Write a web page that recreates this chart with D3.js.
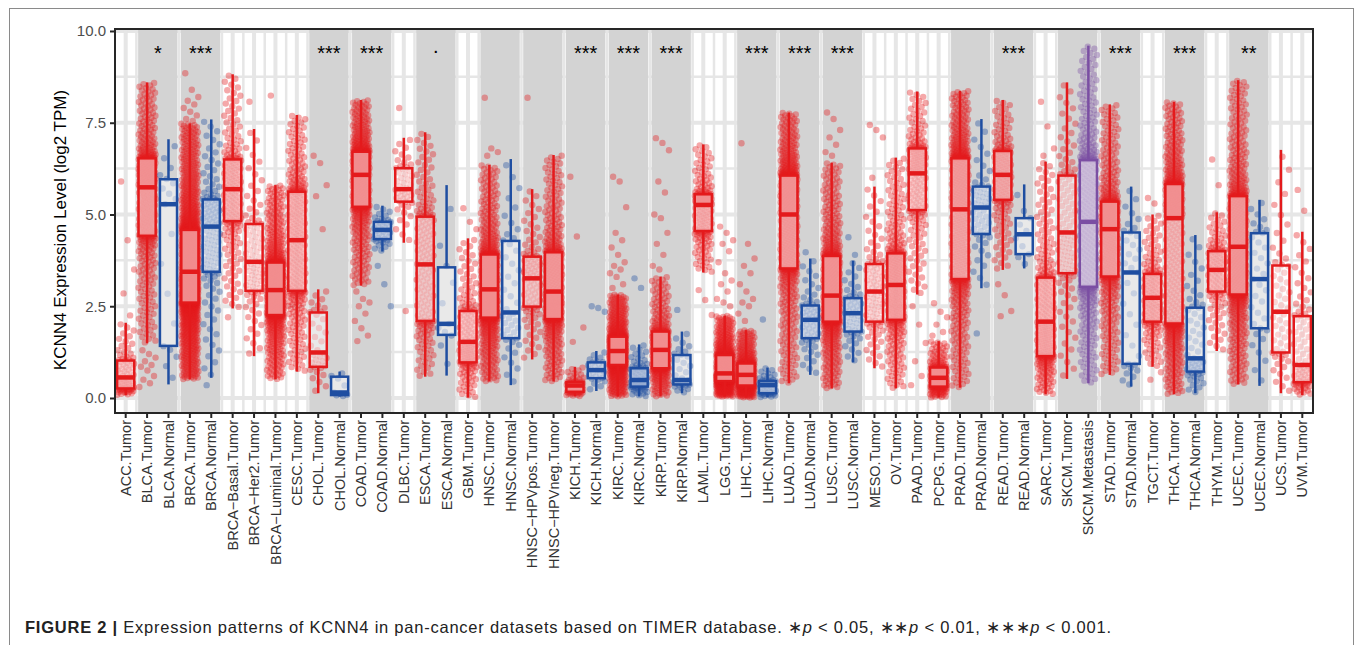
<!DOCTYPE html>
<html>
<head>
<meta charset="utf-8">
<script src="https://cdn.jsdelivr.net/npm/d3@7"></script>
<style>
  body { margin: 0; background: #fff; }
  svg text { font-family: "Liberation Sans", Arial, Helvetica, sans-serif; }
</style>
</head>
<body>
<svg id="chart" width="1355" height="645"></svg>
<script>
// ---- data (log2 TPM) ----
var categories = ["ACC.Tumor","BLCA.Tumor","BLCA.Normal","BRCA.Tumor","BRCA.Normal",
  "BRCA\u2212Basal.Tumor","BRCA\u2212Her2.Tumor","BRCA\u2212Luminal.Tumor","CESC.Tumor",
  "CHOL.Tumor","CHOL.Normal","COAD.Tumor","COAD.Normal","DLBC.Tumor","ESCA.Tumor","ESCA.Normal",
  "GBM.Tumor","HNSC.Tumor","HNSC.Normal","HNSC\u2212HPVpos.Tumor","HNSC\u2212HPVneg.Tumor",
  "KICH.Tumor","KICH.Normal","KIRC.Tumor","KIRC.Normal","KIRP.Tumor","KIRP.Normal","LAML.Tumor",
  "LGG.Tumor","LIHC.Tumor","LIHC.Normal","LUAD.Tumor","LUAD.Normal","LUSC.Tumor","LUSC.Normal",
  "MESO.Tumor","OV.Tumor","PAAD.Tumor","PCPG.Tumor","PRAD.Tumor","PRAD.Normal","READ.Tumor",
  "READ.Normal","SARC.Tumor","SKCM.Tumor","SKCM.Metastasis","STAD.Tumor","STAD.Normal",
  "TGCT.Tumor","THCA.Tumor","THCA.Normal","THYM.Tumor","UCEC.Tumor","UCEC.Normal","UCS.Tumor","UVM.Tumor"];

var whiskerLow = [0.08,1.49,0.37,0.51,0.55,2.44,1.14,0.51,0.72,0.13,0.04,3.06,3.99,4.23,0.58,0.61,
  0.01,0.45,0.35,1.05,0.45,0.05,0.19,0.04,0.04,0.04,0.13,3.42,0.04,0.01,0.02,0.40,0.63,0.26,0.97,
  0.81,0.26,2.82,0.01,0.28,2.99,3.49,3.53,0.10,0.52,0.40,0.63,0.31,0.85,0.10,0.13,1.28,0.37,0.33,0.13,0.08];
var q1 = [0.26,4.42,1.42,2.60,3.44,4.82,2.92,2.26,2.92,0.85,0.08,5.21,4.33,5.35,2.10,1.72,
  0.97,2.19,1.63,2.49,2.15,0.17,0.54,0.90,0.31,0.81,0.37,4.55,0.46,0.34,0.13,3.53,1.63,2.08,1.81,
  2.08,2.13,5.12,0.31,3.24,4.47,5.40,3.92,1.14,3.40,3.03,3.31,0.93,2.08,2.03,0.72,2.90,2.82,1.90,1.24,0.43];
var median = [0.56,5.74,5.28,3.44,4.67,5.69,3.71,2.94,4.30,1.24,0.15,6.08,4.58,5.69,3.64,2.02,
  1.53,2.96,2.33,3.26,2.90,0.34,0.76,1.28,0.49,1.31,0.49,5.26,0.67,0.63,0.35,5.00,2.13,2.79,2.31,
  2.90,3.08,6.12,0.55,5.14,5.19,6.08,4.46,2.08,4.51,4.80,4.60,3.42,2.73,4.90,1.08,3.49,4.12,3.24,2.35,0.90];
var q3 = [1.02,6.53,5.96,4.58,5.41,6.50,4.74,3.69,5.62,2.33,0.58,6.71,4.80,6.26,4.94,3.56,
  2.37,3.91,4.28,3.85,3.97,0.43,0.97,1.67,0.81,1.81,1.17,5.55,1.17,0.94,0.46,6.06,2.52,3.87,2.72,
  3.65,3.94,6.80,0.83,6.53,5.76,6.73,4.90,3.28,6.06,6.48,5.35,4.51,3.38,5.83,2.46,4.00,5.50,4.49,3.61,2.23];
var whiskerHigh = [2.05,8.60,7.05,7.48,7.59,8.82,7.33,5.80,7.71,2.96,0.72,8.12,5.24,7.09,7.24,5.80,
  4.35,6.35,6.51,5.69,6.62,0.85,1.28,2.82,1.46,3.31,1.81,6.91,2.24,1.85,0.83,7.78,3.80,6.41,3.74,
  5.76,6.55,8.35,1.55,8.37,7.60,8.12,5.82,6.44,8.60,9.60,8.00,5.76,5.00,8.07,4.44,5.06,8.66,5.40,6.76,4.53];
var sampleCount = [79,408,19,1093,112,191,82,566,304,36,9,457,41,48,184,11,
  153,520,44,97,421,66,25,533,72,290,32,173,516,371,50,515,59,501,51,
  87,303,178,179,497,52,166,10,259,103,368,415,35,150,509,59,120,545,35,57,80];
var outlierValues = [
  [5.9,4.3,3.5,2.85,2.25],[1.3,1.2,1.1,1.0,0.9,0.85,0.75,0.6,0.5,0.4,0.3],[],
  [8.85,8.4,8.2,8.1,8.0,7.9,7.8,7.7,7.6,7.55],[0.35],[2.2],[8.07],[8.24],[],
  [6.6,6.4,5.8,5.5,4.6],[],[2.9,2.7,2.6,2.5,2.3,2.1,1.9,1.7,1.55],[3.6,3.1,2.5],[7.9,2.37],[],[],
  [5.17,4.8,4.6],[8.18,6.8,6.7,6.6],[],[8.18],[],[6.03,4.4,1.92,1.53],[2.5,2.45,2.35],
  [6.03,5.9,5.2,4.5,4.3,4.1,3.9,3.7,3.6,3.5,3.4,3.3,3.1,3.0],[3.26,3.0],
  [7.08,6.95,6.75,5.9,5.6,5.0,4.9,4.5,4.2,3.9,3.6,3.5],[2.4],[2.94,2.67,2.26],
  [4.67,4.5,4.3,4.2,4.0,3.7,3.4,3.2,3.1,2.9,2.7,2.6,2.5],[6.94,4.2,3.8,3.6,3.4,3.1,2.9,2.7,2.6,2.5,2.3,2.1],
  [2.14],[],[3.97],[7.78,7.6,7.3,7.1,6.9,6.7,6.6],[4.38,3.9],[7.44,7.3,7.1,6.0],[],
  [2.5,2.0,1.5,1.0,0.6,0.35],[2.58,2.35,2.2,2.0,1.8,1.7],[],[1.76],[3.1,2.8,2.37,2.23],[],
  [8.07,7.4,6.8,6.6],[],[],[],[],[5.45,5.3,0.7,0.5],[],[],[6.5,5.8],[],[],[],[5.67,5.1]];

// Tumor/Normal pairs shaded in grey, with the significance label above them
var pairFirst = ["BLCA.Tumor","BRCA.Tumor","CHOL.Tumor","COAD.Tumor","ESCA.Tumor","HNSC.Tumor",
  "HNSC\u2212HPVpos.Tumor","KICH.Tumor","KIRC.Tumor","KIRP.Tumor","LIHC.Tumor","LUAD.Tumor","LUSC.Tumor",
  "PRAD.Tumor","READ.Tumor","SKCM.Tumor","STAD.Tumor","THCA.Tumor","UCEC.Tumor"];
var pairLast = ["BLCA.Normal","BRCA.Normal","CHOL.Normal","COAD.Normal","ESCA.Normal","HNSC.Normal",
  "HNSC\u2212HPVneg.Tumor","KICH.Normal","KIRC.Normal","KIRP.Normal","LIHC.Normal","LUAD.Normal","LUSC.Normal",
  "PRAD.Normal","READ.Normal","SKCM.Metastasis","STAD.Normal","THCA.Normal","UCEC.Normal"];
var pairSignif = ["*","***","***","***",".","","","***","***","***","***","***","***","","***","","***","***","**"];

var yTicks = [0, 2.5, 5, 7.5, 10];

// ---- layout ----
var panel = {left: 115, right: 1313, top: 29, bottom: 413};
var svg = d3.select("#chart");

var x = d3.scaleBand().domain(categories).range([panel.left, panel.right]);
var step = x.step();
var cx = function (c) { return x(c) + step / 2; };
var y = d3.scaleLinear().domain([-0.409, 10.054]).range([panel.bottom, panel.top]);

function colorOf(c) {
  if (/Metastasis/.test(c)) return "#7b4ea3";
  if (/Normal/.test(c)) return "#1f4ea1";
  return "#e41a1c";
}

// outer frame
svg.append("rect").attr("x", 9.5).attr("y", 8.5).attr("width", 1344).attr("height", 660)
  .attr("fill", "none").attr("stroke", "#8a8a8a").attr("stroke-width", 1);

svg.append("rect").attr("x", panel.left).attr("y", panel.top)
  .attr("width", panel.right - panel.left).attr("height", panel.bottom - panel.top)
  .attr("fill", "#fff");

var grid = svg.append("g").attr("stroke", "#e6e6e6");
// minor horizontal lines halfway between ticks
d3.pairs(yTicks).forEach(function (p) {
  var v = (p[0] + p[1]) / 2;
  grid.append("line").attr("x1", panel.left).attr("x2", panel.right)
    .attr("y1", y(v)).attr("y2", y(v)).attr("stroke-width", 2.5);
});
yTicks.forEach(function (v) {
  grid.append("line").attr("x1", panel.left).attr("x2", panel.right)
    .attr("y1", y(v)).attr("y2", y(v)).attr("stroke-width", 4);
});
categories.forEach(function (c, i) {
  if (i > 0) grid.append("line").attr("x1", x(c)).attr("x2", x(c))
    .attr("y1", panel.top).attr("y2", panel.bottom).attr("stroke-width", 2.5);
  grid.append("line").attr("x1", cx(c)).attr("x2", cx(c))
    .attr("y1", panel.top).attr("y2", panel.bottom).attr("stroke-width", 4);
});

// grey bands for paired cohorts
svg.append("g").selectAll("rect")
  .data(pairFirst)
  .enter().append("rect")
  .attr("x", function (d) { return x(d) + 1.75; })
  .attr("width", function (d, i) { return x(pairLast[i]) + step - x(d) - 3.5; })
  .attr("y", panel.top).attr("height", panel.bottom - panel.top)
  .attr("fill", "#d3d3d3");

// jittered samples, placed at evenly spaced quantiles of each read box-plot
// (whisker segments thin out toward their ends)
var tail = d3.scalePow().exponent(1.7).domain([0, 1]).range([0, 1]);
var pts = [];
categories.forEach(function (c, i) {
  var mid = d3.scaleLinear().domain([0.25, 0.5, 0.75]).range([q1[i], median[i], q3[i]]);
  var n = sampleCount[i];
  for (var k = 0; k < n; k++) {
    var p = (k + 0.5) / n, v;
    if (p > 0.75) v = q3[i] + (whiskerHigh[i] - q3[i]) * tail((p - 0.75) / 0.25);
    else if (p < 0.25) v = q1[i] - (q1[i] - whiskerLow[i]) * tail((0.25 - p) / 0.25);
    else v = mid(p);
    pts.push({c: c, v: v, j: (k * 0.618034 + i * 0.37) % 1});
  }
  outlierValues[i].forEach(function (v, k) {
    pts.push({c: c, v: v, j: (k * 0.381966 + 0.23) % 1});
  });
});
svg.append("g").selectAll("circle")
  .data(pts)
  .enter().append("circle")
  .attr("cx", function (d) { return cx(d.c) + (d.j - 0.5) * step * 0.8; })
  .attr("cy", function (d) { return y(d.v); })
  .attr("r", 3.2)
  .attr("fill", function (d) { return colorOf(d.c); })
  .attr("fill-opacity", 0.38);

// boxes
var bw = step * 0.8;
var box = svg.append("g").selectAll("g")
  .data(categories)
  .enter().append("g")
  .attr("stroke", colorOf)
  .attr("transform", function (d) { return "translate(" + cx(d) + ",0)"; });

box.append("line")
  .attr("y1", function (d, i) { return y(whiskerHigh[i]); })
  .attr("y2", function (d, i) { return y(q3[i]); })
  .attr("stroke-width", 2.5);
box.append("line")
  .attr("y1", function (d, i) { return y(q1[i]); })
  .attr("y2", function (d, i) { return y(whiskerLow[i]); })
  .attr("stroke-width", 2.5);
box.append("rect")
  .attr("x", -bw / 2).attr("width", bw)
  .attr("y", function (d, i) { return y(q3[i]); })
  .attr("height", function (d, i) { return y(q1[i]) - y(q3[i]); })
  .attr("fill", "#fff").attr("fill-opacity", 0.5)
  .attr("stroke-width", 2.5);
box.append("line")
  .attr("x1", -bw / 2).attr("x2", bw / 2)
  .attr("y1", function (d, i) { return y(median[i]); })
  .attr("y2", function (d, i) { return y(median[i]); })
  .attr("stroke-width", 4.5);

// significance labels
svg.append("g").selectAll("text")
  .data(pairFirst)
  .enter().append("text")
  .attr("x", function (d, i) { return (cx(d) + cx(pairLast[i])) / 2; })
  .attr("y", function (d, i) { return pairSignif[i] === "." ? 53 : 60; })
  .attr("text-anchor", "middle")
  .attr("font-size", 20)
  .attr("fill", "#000")
  .text(function (d, i) { return pairSignif[i]; });

// panel border
svg.append("rect").attr("x", panel.left).attr("y", panel.top)
  .attr("width", panel.right - panel.left).attr("height", panel.bottom - panel.top)
  .attr("fill", "none").attr("stroke", "#262626").attr("stroke-width", 2);

// axes
var yAxis = svg.append("g")
  .attr("transform", "translate(" + panel.left + ",0)")
  .call(d3.axisLeft(y).tickValues(yTicks).tickFormat(d3.format(".1f")).tickSize(5).tickPadding(4));
yAxis.select(".domain").remove();
yAxis.selectAll("line").attr("stroke", "#262626").attr("stroke-width", 2);
yAxis.selectAll("text").attr("font-size", 15).attr("fill", "#4d4d4d")
  .style("font-family", "'Liberation Sans', Arial, sans-serif");

var xAxis = svg.append("g")
  .attr("transform", "translate(0," + panel.bottom + ")")
  .call(d3.axisBottom(x).tickSize(5).tickPadding(4));
xAxis.select(".domain").remove();
xAxis.selectAll("line").attr("stroke", "#262626").attr("stroke-width", 2);
xAxis.selectAll("text")
  .attr("font-size", 14.5).attr("fill", "#333")
  .style("font-family", "'Liberation Sans', Arial, sans-serif")
  .attr("text-anchor", "end")
  .attr("transform", "rotate(-90)")
  .attr("x", -7).attr("y", 0).attr("dy", "0.35em");

svg.append("text")
  .attr("transform", "translate(66,230) rotate(-90)")
  .attr("text-anchor", "middle")
  .attr("font-size", 17)
  .attr("fill", "#000")
  .text("KCNN4 Expression Level (log2 TPM)");

// caption
var cap = svg.append("text").attr("x", 25).attr("y", 633).attr("font-size", 16.5).attr("fill", "#222")
  .attr("textLength", 1086).attr("lengthAdjust", "spacing");
cap.append("tspan").attr("font-weight", "bold").text("FIGURE 2 | ");
cap.append("tspan").text("Expression patterns of KCNN4 in pan-cancer datasets based on TIMER database. \u2217");
cap.append("tspan").attr("font-style", "italic").text("p");
cap.append("tspan").text(" < 0.05, \u2217\u2217");
cap.append("tspan").attr("font-style", "italic").text("p");
cap.append("tspan").text(" < 0.01, \u2217\u2217\u2217");
cap.append("tspan").attr("font-style", "italic").text("p");
cap.append("tspan").text(" < 0.001.");
</script>
</body>
</html>
